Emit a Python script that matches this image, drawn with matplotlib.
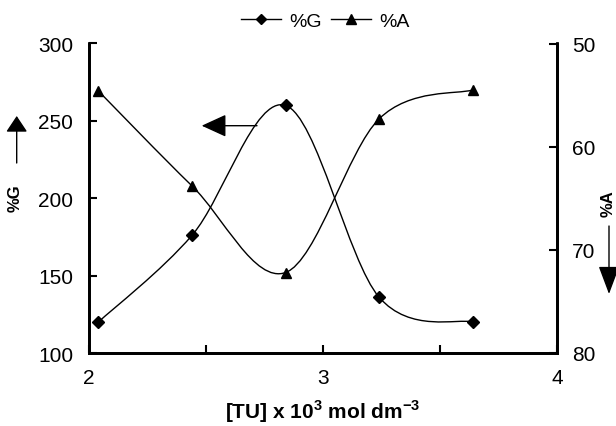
import matplotlib
matplotlib.use("Agg")
import matplotlib.pyplot as plt
from matplotlib.path import Path
from matplotlib.patches import PathPatch, FancyArrowPatch
from matplotlib.lines import Line2D

plt.rcParams['font.family'] = ['Liberation Sans', 'DejaVu Sans']
plt.rcParams['mathtext.fontset'] = 'custom'
plt.rcParams['mathtext.rm'] = 'Liberation Sans:bold'
plt.rcParams['mathtext.bf'] = 'Liberation Sans:bold'

# Data
tu = [2.04, 2.44, 2.84, 3.24, 3.64]
pct_G = [120, 176, 260, 136, 120]
pct_A = [54.6, 63.8, 72.2, 57.3, 54.5]

x_ticks = [2, 3, 4]
x_minor = [2.5, 3.5]
g_ticks = [100, 150, 200, 250, 300]
a_ticks = [50, 60, 70, 80]


def smooth_path(xs, ys):
    """Excel-like smoothed line as cubic Bezier segments built from data points."""
    n = len(xs)
    verts = [(xs[0], ys[0])]
    codes = [Path.MOVETO]
    for i in range(n - 1):
        i0 = max(i - 1, 0)
        i3 = min(i + 2, n - 1)
        c1 = (xs[i] + (xs[i + 1] - xs[i0]) / 6.0, ys[i] + (ys[i + 1] - ys[i0]) / 6.0)
        c2 = (xs[i + 1] - (xs[i3] - xs[i]) / 6.0, ys[i + 1] - (ys[i3] - ys[i]) / 6.0)
        verts += [c1, c2, (xs[i + 1], ys[i + 1])]
        codes += [Path.CURVE4] * 3
    return Path(verts, codes)


fig = plt.figure(figsize=(6.16, 4.27), dpi=100)
ax = fig.add_axes([89 / 616, 1 - 354 / 427, (557 - 89) / 616, (354 - 44.5) / 427])
ax2 = ax.twinx()

ax.set_xlim(2, 4)
ax.set_ylim(100, 300)
ax2.set_ylim(80, 50)

# %G curve
ax.add_patch(PathPatch(smooth_path(tu, pct_G), facecolor='none', edgecolor='black', lw=1.0))
ax.plot(tu, pct_G, linestyle='none', marker='D', color='black', markersize=6)
# %A curve
ax2.add_patch(PathPatch(smooth_path(tu, pct_A), facecolor='none', edgecolor='black', lw=1.0))
ax2.plot(tu, pct_A, linestyle='none', marker='^', color='black', markersize=7.5)

# spines
for a in (ax, ax2):
    a.spines['top'].set_visible(False)
    for s in ('left', 'right', 'bottom'):
        a.spines[s].set_linewidth(2)

ax.set_xticks(x_ticks)
ax.set_xticks(x_minor, minor=True)
ax.set_yticks(g_ticks)
ax2.set_yticks(a_ticks)
ax.tick_params(axis='x', which='both', direction='in', length=6, width=1.5, labelsize=15, pad=11)
ax.tick_params(axis='y', direction='in', length=6, width=1.5, labelsize=15, pad=11.5)
ax2.tick_params(axis='y', direction='in', length=6, width=1.5, labelsize=15, pad=11)

ax.set_xlabel(r'[TU] x 10$^{3}$ mol dm$^{-3}$', fontsize=15, fontweight='bold', labelpad=7)

# Left axis label with up arrow
fig.text(15 / 616, 1 - 198 / 427, '%G', rotation=90, fontsize=12, fontweight='bold',
         ha='center', va='center')
fig.add_artist(FancyArrowPatch(
    (16.7 / 616, 1 - 164 / 427), (16.7 / 616, 1 - 117 / 427), transform=fig.transFigure,
    arrowstyle='-|>,head_length=0.45,head_width=0.3', mutation_scale=22, color='black', lw=1,
    shrinkA=0, shrinkB=0))

# Right axis label with down arrow
fig.text(608 / 616, 1 - 204 / 427, '%A', rotation=90, fontsize=12, fontweight='bold',
         ha='center', va='center')
fig.add_artist(FancyArrowPatch(
    (609 / 616, 1 - 227 / 427), (609 / 616, 1 - 295 / 427), transform=fig.transFigure,
    arrowstyle='-|>,head_length=0.8,head_width=0.3', mutation_scale=22, color='black', lw=1,
    shrinkA=0, shrinkB=0))

# Arrow inside plot pointing to %G axis
ax.annotate('', xy=(201.7 / 616, 1 - 126.7 / 427), xytext=(257 / 616, 1 - 126.7 / 427),
            xycoords='figure fraction', textcoords='figure fraction',
            arrowprops=dict(arrowstyle='-|>,head_length=0.7,head_width=0.32',
                            mutation_scale=22, color='black', lw=1, shrinkA=0, shrinkB=0))

# Legend
handles = [Line2D([], [], color='black', lw=1, marker='D', markersize=5.5),
           Line2D([], [], color='black', lw=1, marker='^', markersize=7)]
fig.legend(handles, ['%G', '%A'], loc='center', bbox_to_anchor=(325 / 616, 1 - 22 / 427),
           ncol=2, frameon=False, fontsize=14, handlelength=2.1, handletextpad=0.4,
           columnspacing=0.45, borderpad=0)

fig.savefig('out.png', dpi=100)
